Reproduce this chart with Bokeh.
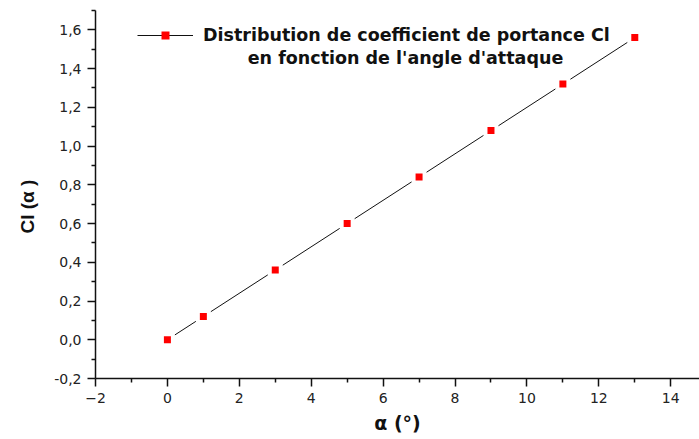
from bokeh.plotting import figure
from bokeh.models import (ColumnDataSource, FixedTicker, CustomJSTickFormatter, Legend, LegendItem,
                          Label, Range1d, Title)
from bokeh.embed import file_html
from bokeh.resources import INLINE

# data
alpha_deg = [0, 1, 3, 5, 7, 9, 11, 13]
cl_values = [0.0, 0.12, 0.36, 0.60, 0.84, 1.08, 1.32, 1.56]
x_ticks = [-2, 0, 2, 4, 6, 8, 10, 12, 14]
x_minor = [-1, 1, 3, 5, 7, 9, 11, 13]
y_ticks = [-0.2, 0.0, 0.2, 0.4, 0.6, 0.8, 1.0, 1.2, 1.4, 1.6]
y_minor = [-0.1, 0.1, 0.3, 0.5, 0.7, 0.9, 1.1, 1.3, 1.5, 1.7]
legend_line1 = "Distribution de coefficient de portance Cl"
legend_line2 = "en fonction de l'angle d'attaque"
x_label = "α (°)"
y_label = "Cl (α )"

src = ColumnDataSource(dict(x=alpha_deg, y=cl_values))

p = figure(width=699, height=439, output_backend="svg", toolbar_location=None,
           x_range=Range1d(-2, 14.8), y_range=Range1d(-0.2, 1.7),
           min_border_left=95, min_border_right=0, min_border_top=10, min_border_bottom=61)
p.outline_line_color = None
p.grid.visible = False
p.background_fill_color = "white"
p.border_fill_color = "white"

line_r = p.line("x", "y", source=src, line_color="#111111", line_width=1)
p.scatter("x", "y", source=src, marker="square", size=15, fill_color="white", line_color=None)
pts_r = p.scatter("x", "y", source=src, marker="square", size=7, fill_color="#ff0000", line_color=None)

TICK_FONT = "DejaVu Sans"
BOLD_FONT = "DejaVu Sans"
for ax in (p.xaxis[0], p.yaxis[0]):
    ax.axis_line_color = "#111111"
    ax.axis_line_width = 1.5
    ax.major_tick_line_color = "#111111"
    ax.minor_tick_line_color = "#111111"
    ax.major_tick_line_width = 1.5
    ax.minor_tick_line_width = 1.5
    ax.major_tick_out = 8
    ax.major_tick_in = 0
    ax.minor_tick_out = 4
    ax.minor_tick_in = 0
    ax.major_label_text_font = TICK_FONT
    ax.major_label_text_font_size = "14px"
    ax.major_label_text_color = "#222222"
    ax.axis_label_text_font = BOLD_FONT
    ax.axis_label_text_font_style = "bold"
    ax.axis_label_text_font_size = "19px"
    ax.axis_label_text_color = "#111111"

p.xaxis.ticker = FixedTicker(ticks=x_ticks, minor_ticks=x_minor)
p.yaxis.ticker = FixedTicker(ticks=y_ticks, minor_ticks=y_minor)
p.yaxis.formatter = CustomJSTickFormatter(code="return tick.toFixed(1).replace('.', ',');")
p.xaxis.axis_label = x_label
p.xaxis.major_label_standoff = 6
p.yaxis.major_label_standoff = 6
p.xaxis.axis_label_standoff = 6

# y axis title, placed like the original (slightly below the frame centre)
p.add_layout(Title(text=y_label, align="left", offset=145, standoff=27,
                   text_font="Liberation Sans", text_font_style="bold",
                   text_font_size="19px", text_color="#111111"), "left")

legend = Legend(items=[LegendItem(label=legend_line1, renderers=[line_r, pts_r])],
                location=(42, 333), padding=0, margin=0, spacing=0,
                border_line_color=None, background_fill_alpha=0,
                glyph_width=56, glyph_height=20, label_height=20, label_standoff=10,
                label_text_font=BOLD_FONT, label_text_font_style="bold",
                label_text_font_size="17.5px", label_text_color="#111111")
p.add_layout(legend, "center")

p.add_layout(Label(x=310, y=321, x_units="screen", y_units="screen", text=legend_line2,
                   text_align="center", text_baseline="middle", text_font=BOLD_FONT,
                   text_font_style="bold", text_font_size="17.5px", text_color="#111111"))

open("out.html", "w").write(file_html(p, INLINE))
